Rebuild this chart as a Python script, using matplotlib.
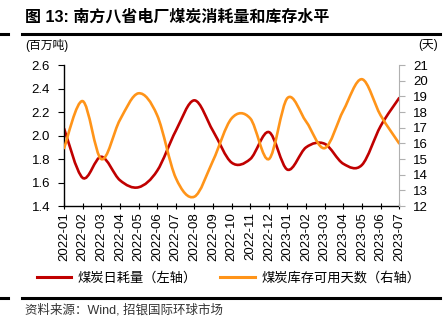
import matplotlib
matplotlib.use("Agg")
import matplotlib.pyplot as plt
from matplotlib.path import Path
from matplotlib.patches import PathPatch
from matplotlib.lines import Line2D

plt.rcParams["font.family"] = ["Liberation Sans", "Noto Sans CJK SC"]
plt.rcParams["axes.unicode_minus"] = False

# 数据（从图中读取，月度）
months = ["2022-01", "2022-02", "2022-03", "2022-04", "2022-05", "2022-06",
          "2022-07", "2022-08", "2022-09", "2022-10", "2022-11", "2022-12",
          "2023-01", "2023-02", "2023-03", "2023-04", "2023-05", "2023-06",
          "2023-07"]
coal_use = [2.06, 1.64, 1.82, 1.62, 1.56, 1.70, 2.04, 2.30, 2.04, 1.77, 1.80,
            2.03, 1.71, 1.90, 1.93, 1.76, 1.75, 2.08, 2.32]
stock_days = [15.7, 18.7, 15.0, 17.5, 19.2, 17.8, 13.8, 12.6, 14.9, 17.6, 17.6,
              15.0, 18.9, 17.4, 15.7, 18.1, 20.1, 17.8, 16.0]

RED = "#C00000"
ORANGE = "#FF9419"


def smooth_path(xs, ys):
    # 平滑线（类似Excel平滑折线），用三次贝塞尔段
    pts = list(zip(xs, ys))
    verts = [pts[0]]
    codes = [Path.MOVETO]
    n = len(pts)
    for i in range(n - 1):
        p0 = pts[i - 1] if i > 0 else pts[i]
        p1 = pts[i]
        p2 = pts[i + 1]
        p3 = pts[i + 2] if i + 2 < n else pts[i + 1]
        c1 = (p1[0] + (p2[0] - p0[0]) / 6, p1[1] + (p2[1] - p0[1]) / 6)
        c2 = (p2[0] - (p3[0] - p1[0]) / 6, p2[1] - (p3[1] - p1[1]) / 6)
        verts += [c1, c2, p2]
        codes += [Path.CURVE4] * 3
    return Path(verts, codes)


x = list(range(len(months)))

fig = plt.figure(figsize=(4.48, 3.24), dpi=100)
ax = fig.add_axes([0.143, 0.364, 0.748, 0.435])
ax2 = ax.twinx()

ax.add_patch(PathPatch(smooth_path(x, coal_use), fill=False, edgecolor=RED,
                       lw=1.9, capstyle="round"))
ax2.add_patch(PathPatch(smooth_path(x, stock_days), fill=False, edgecolor=ORANGE,
                        lw=1.9, capstyle="round"))

ax.set_xlim(0, len(months) - 1)
ax.set_ylim(1.4, 2.6)
ax.set_yticks([1.4, 1.6, 1.8, 2.0, 2.2, 2.4, 2.6])
ax.set_yticklabels(["1.4", "1.6", "1.8", "2.0", "2.2", "2.4", "2.6"])
ax2.set_ylim(12, 21)
ax2.set_yticks(range(12, 22))
ax.set_xticks(x)
ax.set_xticklabels(months, rotation=90)

for a in (ax, ax2):
    a.spines["top"].set_visible(False)
ax.spines["right"].set_visible(False)
ax2.spines["left"].set_visible(False)
ax2.spines["bottom"].set_visible(False)
ax2.spines["right"].set_color("#b0b0b0")
ax.spines["left"].set_linewidth(1.0)
ax.spines["bottom"].set_linewidth(1.0)

ax.tick_params(axis="y", direction="out", length=4, labelsize=9.5, pad=6)
ax.tick_params(axis="x", direction="inout", length=5, labelsize=9.5, pad=2)
ax2.tick_params(axis="y", direction="out", length=4, labelsize=9.5, color="#b0b0b0",
                pad=6)

# 标题与注释
fig.text(0.056, 0.947, "图 13: 南方八省电厂煤炭消耗量和库存水平", fontsize=11.5,
         fontweight="bold", va="center", ha="left")
fig.text(0.056, 0.861, "(百万吨)", fontsize=8.5, va="center", ha="left")
fig.text(0.978, 0.861, "(天)", fontsize=8.5, va="center", ha="right")

for yy in (0.895, 0.080):
    fig.add_artist(Line2D([0.049, 0.982], [yy, yy], color="black", lw=2.2))
    fig.add_artist(Line2D([0.0, 0.018], [yy, yy], color="black", lw=2.2))

handles = [Line2D([], [], color=RED, lw=2.2),
           Line2D([], [], color=ORANGE, lw=2.2)]
fig.legend(handles, ["煤炭日耗量（左轴）", "煤炭库存可用天数（右轴）"], ncol=2,
           loc="center", bbox_to_anchor=(0.51, 0.142), frameon=False,
           fontsize=9.5, handlelength=2.6, handletextpad=0.5, columnspacing=1.8)

fig.text(0.056, 0.043, "资料来源：Wind, 招银国际环球市场", fontsize=9,
         color="#333333", va="center", ha="left")

fig.savefig("out.png", dpi=100)
